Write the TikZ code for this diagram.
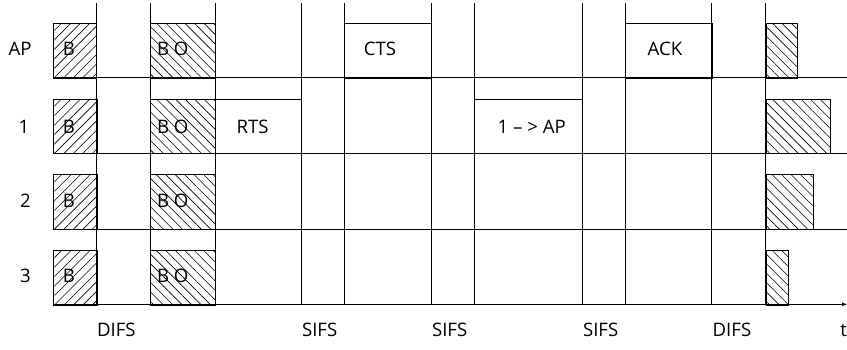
\documentclass[tikz,border=0pt]{standalone}
\usepackage{fontspec}
\setmainfont{Open Sans}
\usetikzlibrary{patterns.meta,arrows.meta}
\begin{document}
\begin{tikzpicture}[x=1pt,y=-1pt,line width=0.7pt,
  slot/.style={draw,rectangle,inner sep=0pt,anchor=north west,minimum height=54.4pt},
  hatchne/.style={slot,pattern={Lines[angle=45,distance=6.7pt,line width=0.6pt]}},
  hatchnw/.style={slot,pattern={Lines[angle=-45,distance=6.7pt,line width=0.6pt]}},
  txt/.style={anchor=base,inner sep=0pt,font=\fontsize{18.6}{22}\selectfont},
  tlbl/.style={anchor=base west,inner sep=0pt,font=\fontsize{18.6}{22}\selectfont}]
\useasboundingbox (0,0) rectangle (847,350);
% horizontal lines
\coordinate (h0a) at (52.7,77.7);  \coordinate (h0b) at (847,77.7);
\coordinate (h1a) at (52.7,153.3); \coordinate (h1b) at (847,153.3);
\coordinate (h2a) at (52.7,229);   \coordinate (h2b) at (847,229);
\coordinate (h3a) at (52.7,304.3); \coordinate (h3b) at (847,304.3);
\draw (h0a) -- (h0b);
\draw (h1a) -- (h1b);
\draw (h2a) -- (h2b);
\draw[-{Latex[length=5pt,width=4pt]}] (h3a) -- (h3b);
% vertical lines
\foreach \x in {96.5,150,215,301.3,344.3,431,474.3,582.3,625.3,711.7,765.7}
  \draw (\x,3) -- (\x,304.3);
% boxes
\foreach \r/\t in {0/23.3,1/99,2/174.3,3/250.3}{
  \node[hatchne,minimum width=43.8pt] (b\r) at (52.7,\t) {};
  \node[hatchnw,minimum width=65pt] (bo\r) at (150,\t) {};
}
\node[hatchnw,minimum width=31pt] (e0) at (765.7,23.3) {};
\node[hatchnw,minimum width=64.6pt] (e1) at (765.7,99) {};
\node[hatchnw,minimum width=47.6pt] (e2) at (765.7,174.3) {};
\node[hatchnw,minimum width=22pt] (e3) at (765.7,250.3) {};
\node[slot,minimum width=86.3pt] (rts) at (215,99) {};
\node[slot,minimum width=86.7pt] (cts) at (344.3,23.3) {};
\node[slot,minimum width=108pt] (data) at (474.3,99) {};
\node[slot,minimum width=86.4pt] (ack) at (625.3,23.3) {};
% row labels
\node[txt] (lAP) at (20,55.7) {AP};
\node[txt] (l1) at (24,133.3) {1};
\node[txt] (l2) at (25.5,207.3) {2};
\node[txt] (l3) at (25.5,282.7) {3};
% box texts
\foreach \r/\yb in {0/55.7,1/133.3,2/207.3,3/282.7}{
  \node[txt] (tb\r) at (69,\yb) {B};
  \node[txt] (tbo\r) at (172.8,\yb) {B O};
}
\node[txt] (trts) at (252.6,133.3) {RTS};
\node[txt] (tcts) at (380,55.7) {CTS};
\node[txt] (tdata) at (531.7,133.3) {1 – > AP};
\node[txt] (tack) at (665,55.7) {ACK};
% time labels
\node[tlbl] (d1) at (96.7,336.7) {DIFS};
\node[tlbl] (s1) at (301.7,336.7) {SIFS};
\node[tlbl] (s2) at (431.7,336.7) {SIFS};
\node[tlbl] (s3) at (582.7,336.7) {SIFS};
\node[tlbl] (d2) at (712.3,336.7) {DIFS};
\node[tlbl] (tt) at (840,336.7) {t};
\end{tikzpicture}
\end{document}
